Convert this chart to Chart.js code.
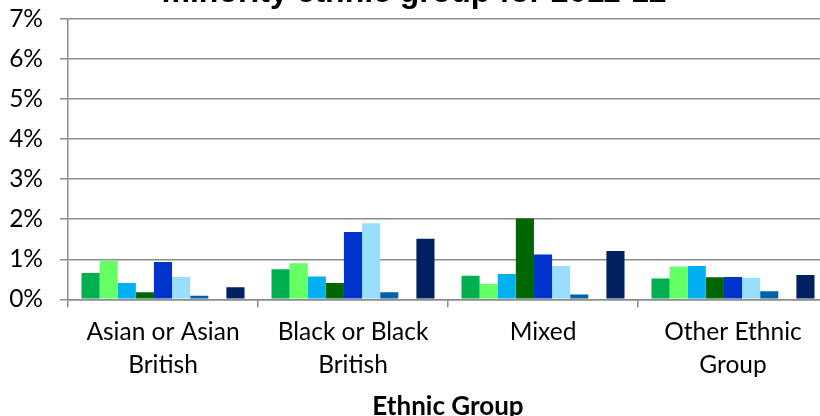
<!DOCTYPE html>
<html>
<head>
<meta charset="utf-8">
<title>Ethnic Group</title>
<script src="https://cdn.jsdelivr.net/npm/chart.js@4.4.1/dist/chart.umd.min.js"></script>
<style>
  html, body { margin: 0; padding: 0; overflow: hidden; background: #fff; width: 820px; height: 416px; }
  #wrap { position: absolute; left: 0; top: -23px; width: 886px; height: 445px; }
</style>
</head>
<body>
<div id="wrap"><canvas id="myChart"></canvas></div>
<script>
const titleText = 'minority ethnic group for 2011-12';
const categories = [['Asian or Asian', 'British'], ['Black or Black', 'British'], 'Mixed', ['Other Ethnic', 'Group']];
const yTicks = [0, 1, 2, 3, 4, 5, 6, 7];

// percentages per group, one array per series
const series1 = [0.66, 0.75, 0.59, 0.52];
const series2 = [0.96, 0.90, 0.38, 0.82];
const series3 = [0.41, 0.57, 0.63, 0.83];
const series4 = [0.18, 0.41, 2.02, 0.55];
const series5 = [0.93, 1.68, 1.12, 0.56];
const series6 = [0.56, 1.90, 0.83, 0.54];
const series7 = [0.09, 0.18, 0.12, 0.20];
const series8 = [0, 0, 0, 0];
const series9 = [0.30, 1.51, 1.21, 0.61];

const seriesColors = ['#00B050', '#66FF66', '#00B0F0', '#006600', '#0033CC', '#99DDFF', '#0062A8', '#7F7F7F', '#002060'];
const allSeries = [series1, series2, series3, series4, series5, series6, series7, series8, series9];

const gridColor = '#8c8c8c';
const labelFont = { family: 'Lato', size: 24.5, lineHeight: 1.34 };

const ctx = document.getElementById('myChart').getContext('2d');

const myChart = new Chart(ctx, {
    type: 'bar',
    data: {
        labels: categories,
        datasets: allSeries.map((vals, i) => ({
            label: 'Series ' + (i + 1),
            data: vals,
            backgroundColor: seriesColors[i],
            borderWidth: 0,
            categoryPercentage: 0.858,
            barPercentage: 1
        }))
    },
    options: {
        responsive: true,
        maintainAspectRatio: false,
        animation: false,
        layout: { padding: { left: 0, right: 58, top: 0, bottom: 0 } },
        plugins: {
            legend: { display: false },
            tooltip: { enabled: false },
            title: {
                display: true,
                text: titleText,
                color: '#000',
                font: { family: "'Liberation Sans', Arial", size: 32, weight: 'bold', lineHeight: 1 },
                padding: { top: 0, bottom: 10 }
            }
        },
        scales: {
            x: {
                grid: { offset: true, drawOnChartArea: false, drawTicks: true, tickLength: 8, color: gridColor, lineWidth: 1.5 },
                border: { color: gridColor, width: 1.5 },
                ticks: { color: '#000', font: labelFont, padding: 8.5, maxRotation: 0, autoSkip: false },
                title: {
                    display: true,
                    text: 'Ethnic Group',
                    color: '#000',
                    font: { family: 'Lato', size: 26, weight: 'bold', lineHeight: 1.2 },
                    padding: { top: 0.8, bottom: 0 }
                }
            },
            y: {
                min: yTicks[0],
                max: yTicks[yTicks.length - 1],
                afterFit: (scale) => { scale.width = 68; },
                grid: { color: gridColor, lineWidth: 1.5, tickLength: 8 },
                border: { color: gridColor, width: 1.5 },
                ticks: {
                    stepSize: 1,
                    color: '#000',
                    font: labelFont,
                    padding: 17,
                    callback: (v) => v + '%'
                }
            }
        }
    }
});
</script>
</body>
</html>
